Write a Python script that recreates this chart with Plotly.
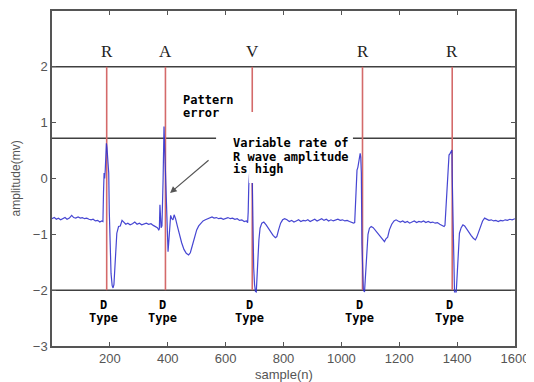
import plotly.graph_objects as go

# ECG trace (sample index, amplitude in mV)
sample = [0, 8, 15, 22, 30, 38, 45, 52, 60, 68, 75, 82, 90, 98, 105, 112, 120, 128, 135, 142, 150, 158, 165, 172, 176,
          178, 180, 182, 184, 186, 188, 190, 192, 194, 196, 198, 201, 204, 208, 211, 214, 217, 220, 224, 230, 236, 242,
          248, 255, 262, 270, 278, 286, 294, 302, 310, 318, 326, 334, 342, 350, 358, 364, 369,
          371, 373, 375, 377, 380, 382, 384, 387, 389, 391, 393, 395, 398, 401, 404, 407, 410, 414, 418, 422, 427, 433,
          440, 448, 456, 464, 472, 478, 485, 492, 500, 507, 514, 522, 530, 538, 546, 553, 560, 568, 576, 584, 592, 600,
          608, 616, 624, 632, 640, 648, 656, 664, 672, 676,
          678, 680, 684, 688, 691, 693, 695, 697, 700, 703, 706, 709, 712, 715, 719, 725, 732, 740, 748, 756, 764, 772,
          777, 783, 790, 797, 804, 812, 820, 828, 836, 844, 852, 860, 868, 876, 884, 892, 900, 908, 916, 924, 932, 940,
          948, 956, 964, 972, 980, 988, 996, 1004, 1012, 1020, 1028, 1036, 1042, 1046,
          1048, 1051, 1054, 1057, 1060, 1063, 1065, 1067, 1069, 1071, 1073, 1076, 1080, 1084, 1088, 1092, 1097, 1103,
          1110, 1118, 1126, 1134, 1142, 1149, 1154, 1160, 1166, 1174, 1182, 1189, 1196, 1204, 1212, 1220, 1228, 1236,
          1244, 1252, 1260, 1268, 1276, 1284, 1292, 1300, 1308, 1316, 1324, 1332, 1340, 1348, 1355, 1358,
          1362, 1366, 1370, 1372, 1376, 1380, 1382, 1383, 1385, 1387, 1389, 1391, 1397, 1400, 1404, 1408, 1414, 1420,
          1426, 1432, 1440, 1448, 1456, 1463, 1468, 1474, 1480, 1488, 1495, 1502, 1510, 1518, 1526, 1534, 1542, 1550,
          1558, 1566, 1574, 1582, 1590, 1600]
amplitude = [-0.72, -0.70, -0.73, -0.71, -0.74, -0.72, -0.70, -0.73, -0.71, -0.66, -0.70, -0.71, -0.69, -0.71, -0.70,
             -0.72, -0.71, -0.73, -0.74, -0.73, -0.76, -0.75, -0.78, -0.76, -0.77,
             -0.25, 0.10, 0.00, 0.15, 0.45, 0.63, 0.55, 0.30, 0.37, 0.10, -0.60, -1.20, -1.70, -1.92, -1.96, -1.90,
             -1.60, -1.25, -0.98, -0.86, -0.85, -0.75, -0.79, -0.82, -0.80, -0.83, -0.81, -0.78, -0.82, -0.80, -0.83,
             -0.82, -0.80, -0.82, -0.81, -0.84, -0.86, -0.88, -0.92,
             -0.90, -0.47, -0.60, -0.88, -0.85, -0.50, 0.00, 0.93, 0.60, 0.28, 0.30, -0.30, -0.90, -1.31, -1.10,
             -0.80, -0.66, -0.72, -0.74, -0.65, -0.72, -0.85, -1.00, -1.15, -1.27, -1.34, -1.37, -1.33, -1.20, -1.05,
             -0.92, -0.85, -0.80, -0.76, -0.74, -0.72, -0.71, -0.69, -0.71, -0.70, -0.72, -0.71, -0.73, -0.72, -0.70,
             -0.72, -0.71, -0.73, -0.72, -0.75, -0.74, -0.77, -0.76, -0.79,
             -0.60, -0.12, 0.25, 0.50, 0.30, -0.50, -1.30, -1.60, -1.90, -2.02, -2.03, -1.80, -1.40, -1.10, -0.89,
             -0.80, -0.78, -0.83, -0.90, -0.96, -1.02, -1.06, -1.04, -0.92, -0.80, -0.74, -0.72, -0.74, -0.77, -0.75,
             -0.78, -0.76, -0.74, -0.77, -0.75, -0.76, -0.74, -0.77, -0.75, -0.73, -0.76, -0.74, -0.72, -0.75, -0.73,
             -0.76, -0.74, -0.76, -0.74, -0.73, -0.75, -0.74, -0.76, -0.75, -0.77, -0.78, -0.80, -0.79,
             -0.50, -0.10, 0.15, 0.20, 0.30, 0.40, 0.45, 0.38, 0.10, -1.16, -1.60, -2.00, -2.03, -1.70, -1.30, -1.00,
             -0.89, -0.86, -0.88, -0.93, -0.99, -1.05, -1.10, -1.13, -1.08, -1.05, -0.92, -0.82, -0.76, -0.74, -0.76,
             -0.78, -0.76, -0.79, -0.77, -0.80, -0.78, -0.76, -0.79, -0.77, -0.78, -0.76, -0.79, -0.77, -0.79, -0.78,
             -0.80, -0.79, -0.82, -0.84, -0.86, -0.84,
             -0.40, 0.03, 0.30, 0.42, 0.45, 0.50, 0.51, 0.03, -0.70, -1.50, -1.90, -2.03, -2.03, -1.70, -1.30, -0.98,
             -0.88, -0.83, -0.85, -0.90, -0.96, -1.02, -1.07, -1.10, -1.05, -0.96, -0.84, -0.76, -0.71, -0.73, -0.75,
             -0.74, -0.76, -0.75, -0.77, -0.75, -0.76, -0.74, -0.75, -0.73, -0.74, -0.72]

# beat markers
beat_x = [189, 392, 692, 1073, 1383]
beat_labels = ["R", "A", "V", "R", "R"]
type_labels = ["D", "D", "D", "D", "D"]

# horizontal reference levels
ref_levels = [2.0, 0.72, -2.0]

x_ticks = [200, 400, 600, 800, 1000, 1200, 1400, 1600]
y_ticks = [-3, -2, -1, 0, 1, 2, 3]

fig = go.Figure()
fig.add_trace(go.Scatter(x=sample, y=amplitude, mode="lines",
                         line=dict(color="rgba(50,50,205,0.9)", width=1.2),
                         hoverinfo="skip", showlegend=False))

shapes = []
for lv in ref_levels:
    shapes.append(dict(type="line", xref="x", yref="y", x0=0, x1=1612, y0=lv, y1=lv,
                       line=dict(color="#404040", width=1.5), layer="below"))
for bx in beat_x:
    shapes.append(dict(type="line", xref="x", yref="y", x0=bx, x1=bx, y0=2.0, y1=-2.0,
                       line=dict(color="#d46a6a", width=1.6), layer="below"))
# white masks behind the annotation text
shapes.append(dict(type="rect", xref="x", yref="y", x0=567, x1=1040, y0=0.28, y1=1.19,
                   fillcolor="white", line=dict(width=0), layer="above"))
shapes.append(dict(type="rect", xref="x", yref="y", x0=681, x1=822, y0=-0.08, y1=0.29,
                   fillcolor="white", line=dict(width=0), layer="above"))

annotations = []
mono = dict(family="DejaVu Sans Mono", size=12, color="black")
for bx, lab in zip(beat_x, beat_labels):
    annotations.append(dict(x=bx, y=2.28, xref="x", yref="y", text=lab, showarrow=False,
                            font=dict(family="Liberation Serif", size=17, color="#222"), xshift=0))
for bx, lab in zip(beat_x, type_labels):
    annotations.append(dict(x=bx, y=-2.27, xref="x", yref="y", text="<b>%s</b>" % lab, showarrow=False,
                            font=mono, xshift=-3))
    annotations.append(dict(x=bx, y=-2.50, xref="x", yref="y", text="<b>Type</b>", showarrow=False,
                            font=mono, xshift=-3))

for txt, yv in [("Pattern", 1.406), ("error", 1.168)]:
    annotations.append(dict(x=445, y=yv, xref="x", yref="y", text="<b>%s</b>" % txt, showarrow=False,
                            xanchor="left", font=mono))
for txt, yv in [("Variable rate of", 0.63), ("R wave amplitude", 0.39), ("is high", 0.17)]:
    annotations.append(dict(x=617, y=yv, xref="x", yref="y", text="<b>%s</b>" % txt, showarrow=False,
                            xanchor="left", font=mono))
# arrow pointing to the A beat
annotations.append(dict(x=408, y=-0.26, xref="x", yref="y", text="", showarrow=True,
                        ax=40, ay=-34, arrowhead=2, arrowsize=1.1, arrowwidth=1.2, arrowcolor="#555"))

# axis titles
annotations.append(dict(x=-0.078, y=0.5, xref="paper", yref="paper", text="amplitude(mv)", textangle=-90,
                        xanchor="center", yanchor="middle",
                        showarrow=False, font=dict(family="Liberation Sans", size=12, color="#555")))
annotations.append(dict(x=0.5, y=-0.084, xref="paper", yref="paper", text="sample(n)", showarrow=False,
                        xanchor="center", yanchor="middle",
                        font=dict(family="Liberation Sans", size=13, color="#555")))

axis_common = dict(showgrid=False, zeroline=False, showline=True, linecolor="#555", linewidth=1.5,
                   mirror="ticks", ticks="inside", ticklen=4, tickcolor="#555", tickwidth=1.2,
                   automargin=False,
                   tickfont=dict(family="Liberation Sans", size=13, color="#555"))

# the page body adds an 8px offset on the left/top, so the figure is 8px smaller
fig.update_layout(
    width=526, height=374,
    margin=dict(l=44, r=19, t=3, b=36, autoexpand=False),
    paper_bgcolor="white", plot_bgcolor="white",
    xaxis=dict(range=[0, 1600], tickvals=x_ticks, **axis_common),
    yaxis=dict(range=[-3, 3], tickvals=y_ticks, **axis_common),
    shapes=shapes, annotations=annotations, showlegend=False,
)

fig.write_html("out.html")
